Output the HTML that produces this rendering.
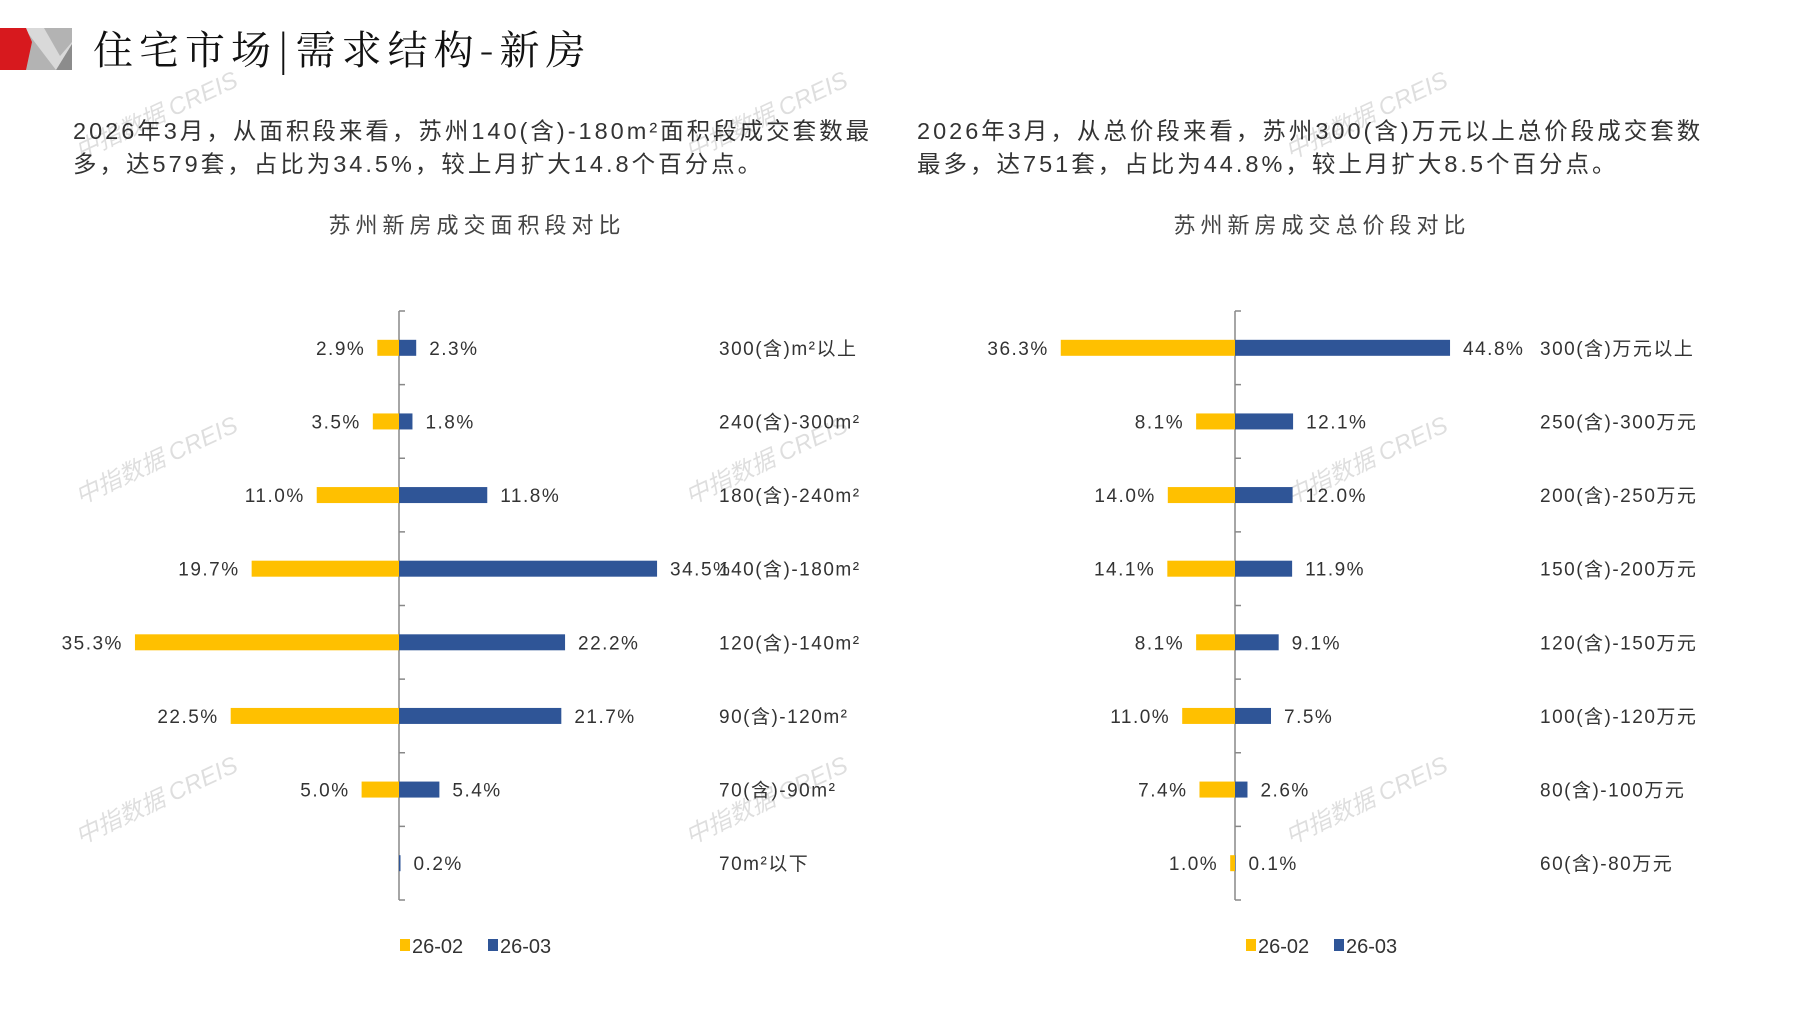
<!DOCTYPE html>
<html><head><meta charset="utf-8"><style>
html,body{margin:0;padding:0;background:#fff;}
body{width:1797px;height:1010px;overflow:hidden;position:relative;font-family:"Liberation Sans","Noto Sans CJK SC",sans-serif;}
svg{position:absolute;left:0;top:0;}
</style></head><body>
<svg id="page" width="1797" height="1010" viewBox="0 0 1797 1010">
 <g>
  <rect x="24" y="28" width="48" height="42" fill="#b3b3b3"/>
  <polygon points="24,28 56,70 72,70 72,42 60,56 44,28" fill="#d9d9d9"/>
  <polygon points="56,70 72,70 72,44" fill="#8c8c8c"/>
  <polygon points="0,28 26,28 32,42 26,70 0,70" fill="#d7191e"/>
 </g>
 <text x="93" y="64" font-size="40" letter-spacing="6" font-family="'Noto Serif CJK SC','Liberation Serif',serif" fill="#111">住宅市场|需求结构-新房</text>
 <g font-size="23.5" fill="#333" letter-spacing="3" font-family="'Liberation Sans','Noto Sans CJK SC',sans-serif">
  <text x="73" y="139">2026年3月，从面积段来看，苏州140(含)-180m²面积段成交套数最</text>
  <text x="73" y="172">多，达579套，占比为34.5%，较上月扩大14.8个百分点。</text>
  <text x="917" y="139">2026年3月，从总价段来看，苏州300(含)万元以上总价段成交套数</text>
  <text x="917" y="172">最多，达751套，占比为44.8%，较上月扩大8.5个百分点。</text>
 </g>
 <text x="477" y="233" font-size="22" letter-spacing="5" text-anchor="middle" fill="#444">苏州新房成交面积段对比</text>
 <text x="1322" y="233" font-size="22" letter-spacing="5" text-anchor="middle" fill="#444">苏州新房成交总价段对比</text>
 <g id="wm" fill="#000" fill-opacity="0.13" font-size="24" font-style="italic"></g>
 <g id="c1"></g>
 <g id="c2"></g>
</svg>
<script>
const areaCats=["300(含)m²以上","240(含)-300m²","180(含)-240m²","140(含)-180m²","120(含)-140m²","90(含)-120m²","70(含)-90m²","70m²以下"];
const areaPrev=[2.9,3.5,11.0,19.7,35.3,22.5,5.0,0];
const areaCur=[2.3,1.8,11.8,34.5,22.2,21.7,5.4,0.2];
const priceCats=["300(含)万元以上","250(含)-300万元","200(含)-250万元","150(含)-200万元","120(含)-150万元","100(含)-120万元","80(含)-100万元","60(含)-80万元"];
const pricePrev=[36.3,8.1,14.0,14.1,8.1,11.0,7.4,1.0];
const priceCur=[44.8,12.1,12.0,11.9,9.1,7.5,2.6,0.1];
const seriesNames=["26-02","26-03"];
const NS="http://www.w3.org/2000/svg";
function mk(tag,attrs,parent){const e=document.createElementNS(NS,tag);for(const k in attrs)e.setAttribute(k,attrs[k]);parent.appendChild(e);return e;}
function drawChart(gid,axisX,pxPer,catX,cats,prev,cur,legendX,key){
 const g=document.getElementById(gid);
 const top=311,bot=900,n=cats.length,step=(bot-top)/n;
 const yC=i=>top+step*(i+0.5);
 const xV=v=>v*pxPer;
 const ax=mk('line',{x1:axisX,y1:top,x2:axisX,y2:bot,stroke:'#888','stroke-width':1.5},g);
 
 
 for(let i=0;i<=n;i++){const t=mk('line',{x1:axisX,y1:top+step*i,x2:axisX+6,y2:top+step*i,stroke:'#888','stroke-width':1.5},g);
  
  }
 for(let i=0;i<n;i++){
  const y=yC(i);
  const w1=xV(prev[i]),w2=xV(cur[i]);
  const b1=mk('rect',{x:axisX-w1,y:y-8,width:w1,height:16,fill:'#FFC000'},g);
  
  
  const b2=mk('rect',{x:axisX,y:y-8,width:w2,height:16,fill:'#2F5597'},g);
  
  
  if(prev[i]>0){const t=mk('text',{x:axisX-w1-12,y:y+7,'font-size':19,'letter-spacing':1.5,'text-anchor':'end',fill:'#333'},g);t.textContent=prev[i].toFixed(1)+'%';
   
   }
  const t2=mk('text',{x:axisX+w2+13,y:y+7,'font-size':19,'letter-spacing':1.5,fill:'#333'},g);t2.textContent=cur[i].toFixed(1)+'%';
  
  
  const c=mk('text',{x:catX,y:y+7,'font-size':19,'letter-spacing':1.5,fill:'#333'},g);c.textContent=cats[i];
  
  
 }
 const cols=['#FFC000','#2F5597'];
 let lx=legendX;
 for(let s=0;s<2;s++){
  const r=mk('rect',{x:lx,y:939,width:10,height:12,fill:cols[s]},g);
  
  
  const t=mk('text',{x:lx+12,y:953,'font-size':20,fill:'#333'},g);t.textContent=seriesNames[s];
  
  
  lx+=88;
 }
}
drawChart('c1',399,7.48,719,areaCats,areaPrev,areaCur,400,'area');
drawChart('c2',1235,4.80,1540,priceCats,pricePrev,priceCur,1246,'price');
const wmPos=[[80,160],[80,505],[80,845],[690,160],[690,505],[690,845],[1290,160],[1290,505],[1290,845]];
const wg=document.getElementById('wm');
wmPos.forEach(p=>{const t=mk('text',{x:p[0],y:p[1],transform:'rotate(-25 '+p[0]+' '+p[1]+')'},wg);t.textContent='中指数据 CREIS';
 
 });
</script>
</body></html>
